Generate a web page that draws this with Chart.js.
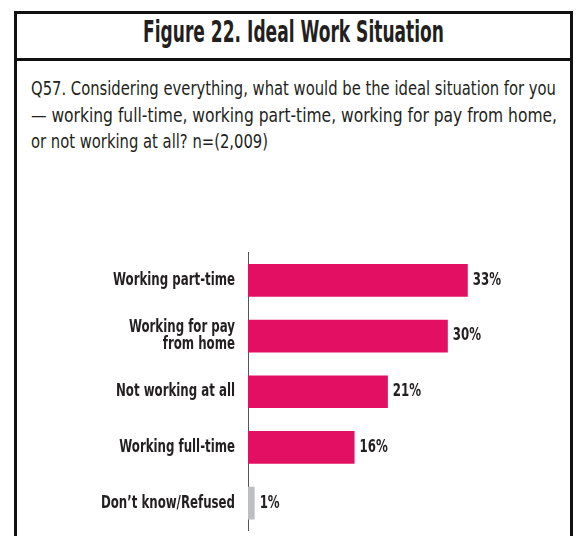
<!DOCTYPE html>
<html>
<head>
<meta charset="utf-8">
<script src="https://cdn.jsdelivr.net/npm/chart.js@4"></script>
<style>
  html, body { margin:0; padding:0; background:#fff; width:577px; height:536px; overflow:hidden; }
  #frame { position:absolute; left:14px; top:11px; width:559px; height:600px; box-sizing:border-box; border:3px solid #111; }
  #sep { position:absolute; left:14px; top:58px; width:559px; height:3px; background:#111; }
  .txt { position:absolute; white-space:nowrap; line-height:1; color:#231F20; transform-origin:0 0;
         font-family:"Liberation Sans Narrow","Arial Narrow","DejaVu Sans Condensed","Liberation Sans",sans-serif; }
  #title { font-weight:bold; font-size:30.5px; }
  .q { font-size:18.7px; }
  #cv { position:absolute; left:0; top:0; }
</style>
</head>
<body>
<div id="frame"></div>
<div id="sep"></div>
<div id="title" class="txt" data-left="143" data-base="43.3" data-w="301">Figure 22. Ideal Work Situation</div>
<div class="txt q" data-left="31" data-base="96" data-w="525">Q57. Considering everything, what would be the ideal situation for you</div>
<div class="txt q" data-left="31" data-base="122.5" data-w="526">— working full-time, working part-time, working for pay from home,</div>
<div class="txt q" data-left="31" data-base="149" data-w="237">or not working at all? n=(2,009)</div>
<canvas id="cv" width="577" height="536"></canvas>
<script>
const categories = ["Working part-time", ["Working for pay", "from home"], "Not working at all", "Working full-time", "Don’t know/Refused"];
const values = [33, 30, 21, 16, 1];
const valueLabels = ["33%", "30%", "21%", "16%", "1%"];
const barColors = ["#E30F62", "#E30F62", "#E30F62", "#E30F62", "#BCBEC0"];

// fit header text lines
document.querySelectorAll('.txt').forEach(el => {
  const fs = parseFloat(getComputedStyle(el).fontSize);
  const left = parseFloat(el.dataset.left), base = parseFloat(el.dataset.base), w = parseFloat(el.dataset.w);
  el.style.left = left + 'px';
  el.style.top = (base - 0.846 * fs) + 'px';
  const actual = el.getBoundingClientRect().width;
  el.style.transform = 'scaleX(' + (w / actual) + ')';
});

const FONT = '"Liberation Sans Narrow","Arial Narrow","DejaVu Sans Condensed","Liberation Sans",sans-serif';
const LABEL_FONT = 'bold 17px ' + FONT;
const AXIS_X = 248, PLOT_TOP = 252.5, PLOT_BOTTOM = 531, PLOT_RIGHT = 547.7;

// horizontal squeeze so the label font matches the condensed original
const mctx = document.createElement('canvas').getContext('2d');
mctx.font = LABEL_FONT;
const SX = 122 / mctx.measureText('Working part-time').width;

const labelPlugin = {
  id: 'labels',
  afterDraw(chart) {
    const ctx = chart.ctx;
    const yScale = chart.scales.y;
    const meta = chart.getDatasetMeta(0);
    ctx.save();
    ctx.font = LABEL_FONT;
    ctx.fillStyle = '#231F20';
    ctx.textBaseline = 'middle';
    yScale.ticks.forEach((t, i) => {
      const y = yScale.getPixelForTick(i);
      const lab = chart.data.labels[i];
      const lines = Array.isArray(lab) ? lab : [lab];
      const lh = 17.5;
      ctx.save();
      ctx.translate(AXIS_X - 13, y);
      ctx.scale(SX, 1);
      ctx.textAlign = 'right';
      lines.forEach((ln, k) => {
        ctx.fillText(ln, 0, (k - (lines.length - 1) / 2) * lh);
      });
      ctx.restore();
    });
    meta.data.forEach((bar, i) => {
      ctx.save();
      ctx.translate(bar.x + 5, bar.y);
      ctx.scale(SX, 1);
      ctx.textAlign = 'left';
      ctx.fillText(valueLabels[i], 0, 0);
      ctx.restore();
    });
    ctx.restore();
  }
};

const chart = new Chart(document.getElementById('cv'), {
  type: 'bar',
  data: {
    labels: categories,
    datasets: [{
      data: values,
      backgroundColor: barColors,
      borderWidth: 0,
      categoryPercentage: 1,
      barPercentage: 0.587
    }]
  },
  options: {
    indexAxis: 'y',
    responsive: false,
    animation: false,
    layout: { padding: { left: 0, right: 29.3, top: PLOT_TOP, bottom: 0 } },
    plugins: { legend: { display: false }, tooltip: { enabled: false }, title: { display: false } },
    scales: {
      x: { display: false, min: 0, max: 45 },
      y: {
        afterFit(scale) { scale.width = AXIS_X; },
        grid: { display: false, drawTicks: false },
        border: { display: true, color: '#555', width: 1 },
        ticks: { display: false }
      }
    }
  },
  plugins: [labelPlugin]
});

// pin the plot area to the reference's edges
const dRight = chart.chartArea.right - PLOT_RIGHT;
if (Math.abs(dRight) > 0.2) {
  chart.options.layout.padding.right = Math.max(0, 29.3 + dRight);
  chart.update();
}
const dBottom = PLOT_BOTTOM - chart.chartArea.bottom;
if (Math.abs(dBottom) > 0.2) {
  chart.resize(577, 536 + dBottom);
}
const dRight2 = chart.chartArea.right - PLOT_RIGHT;
if (Math.abs(dRight2) > 0.2) {
  chart.options.layout.padding.right = Math.max(0, chart.options.layout.padding.right + dRight2);
  chart.update();
}
</script>
</body>
</html>
